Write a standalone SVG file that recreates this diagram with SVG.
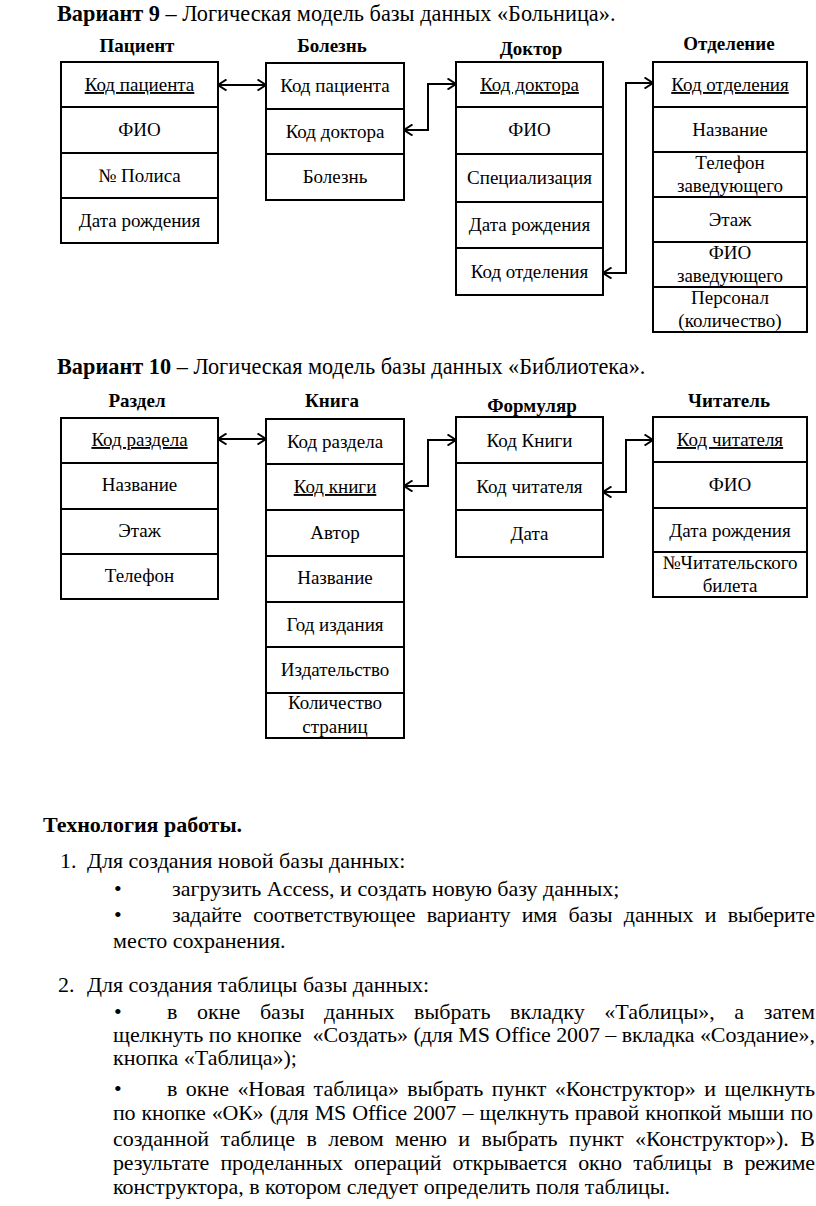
<svg xmlns="http://www.w3.org/2000/svg" width="816" height="1206" viewBox="0 0 816 1206" font-family="Liberation Serif, Times New Roman, serif">
<defs>
<marker id="arr" viewBox="0 0 10 12" refX="9.5" refY="6" markerWidth="10" markerHeight="12" markerUnits="userSpaceOnUse" orient="auto-start-reverse">
<path d="M1,0.5 L9.5,6 L1,11.5" fill="none" stroke="#000" stroke-width="2"/>
</marker>
<style>
text{font-family:"Liberation Serif","Times New Roman",serif;fill:#000}
.t{font-size:22.3px}
.h{font-size:19px;font-weight:bold;text-anchor:middle}
.c{font-size:19px;text-anchor:middle}
.u{text-decoration:underline}
.b{font-size:22px}
.box{fill:#fff;stroke:#000;stroke-width:2}
.sep{stroke:#000;stroke-width:2}
.con{fill:none;stroke:#000;stroke-width:2;marker-start:url(#arr);marker-end:url(#arr)}
</style>
</defs>
<rect width="816" height="1206" fill="#fff"/>

<text class="t" x="57" y="21"><tspan font-weight="bold">Вариант 9</tspan> – Логическая модель базы данных «Больница».</text>
<text class="t" x="57" y="374"><tspan font-weight="bold">Вариант 10</tspan> – Логическая модель базы данных «Библиотека».</text>

<g id="patient">
<text class="h" x="137" y="52">Пациент</text>
<rect class="box" x="61" y="62" width="157" height="181"/>
<path class="sep" d="M61,107H218M61,153H218M61,198H218"/>
<text class="c u" x="139.5" y="91">Код пациента</text>
<text class="c" x="139.5" y="136">ФИО</text>
<text class="c" x="139.5" y="182">№ Полиса</text>
<text class="c" x="139.5" y="227">Дата рождения</text>
</g>

<g id="disease">
<text class="h" x="332" y="52">Болезнь</text>
<rect class="box" x="266" y="63" width="138" height="137"/>
<path class="sep" d="M266,109H404M266,154H404"/>
<text class="c" x="335" y="92">Код пациента</text>
<text class="c" x="335" y="138">Код доктора</text>
<text class="c" x="335" y="183">Болезнь</text>
</g>

<g id="doctor">
<text class="h" x="531" y="55">Доктор</text>
<rect class="box" x="456" y="62" width="147" height="233"/>
<path class="sep" d="M456,107H603M456,154H603M456,202H603M456,248H603"/>
<text class="c u" x="529.5" y="91">Код доктора</text>
<text class="c" x="529.5" y="136">ФИО</text>
<text class="c" x="529.5" y="184">Специализация</text>
<text class="c" x="529.5" y="231">Дата рождения</text>
<text class="c" x="529.5" y="278">Код отделения</text>
</g>

<g id="department">
<text class="h" x="729" y="50">Отделение</text>
<rect class="box" x="653" y="62" width="154" height="270"/>
<path class="sep" d="M653,107H807M653,152H807M653,197H807M653,242H807M653,287H807"/>
<text class="c u" x="730" y="91">Код отделения</text>
<text class="c" x="730" y="136">Название</text>
<text class="c" x="730" y="169">Телефон</text>
<text class="c" x="730" y="192">заведующего</text>
<text class="c" x="730" y="226">Этаж</text>
<text class="c" x="730" y="259">ФИО</text>
<text class="c" x="730" y="282">заведующего</text>
<text class="c" x="730" y="304">Персонал</text>
<text class="c" x="730" y="327">(количество)</text>
</g>

<g id="section">
<text class="h" x="137" y="407">Раздел</text>
<rect class="box" x="61" y="418" width="157" height="181"/>
<path class="sep" d="M61,463H218M61,509H218M61,554H218"/>
<text class="c u" x="139.5" y="446">Код раздела</text>
<text class="c" x="139.5" y="491">Название</text>
<text class="c" x="139.5" y="537">Этаж</text>
<text class="c" x="139.5" y="582">Телефон</text>
</g>

<g id="book">
<text class="h" x="332" y="407">Книга</text>
<rect class="box" x="266" y="419" width="138" height="319"/>
<path class="sep" d="M266,464H404M266,510H404M266,556H404M266,602H404M266,647H404M266,693H404"/>
<text class="c" x="335" y="448">Код раздела</text>
<text class="c u" x="335" y="493">Код книги</text>
<text class="c" x="335" y="539">Автор</text>
<text class="c" x="335" y="584">Название</text>
<text class="c" x="335" y="631">Год издания</text>
<text class="c" x="335" y="676">Издательство</text>
<text class="c" x="335" y="709">Количество</text>
<text class="c" x="335" y="733">страниц</text>
</g>

<g id="form">
<text class="h" x="532" y="412">Формуляр</text>
<rect class="box" x="456" y="417" width="147" height="140"/>
<path class="sep" d="M456,463H603M456,510H603"/>
<text class="c" x="529.5" y="447">Код Книги</text>
<text class="c" x="529.5" y="493">Код читателя</text>
<text class="c" x="529.5" y="540">Дата</text>
</g>

<g id="reader">
<text class="h" x="729" y="407">Читатель</text>
<rect class="box" x="653" y="417" width="154" height="180"/>
<path class="sep" d="M653,462H807M653,508H807M653,552H807"/>
<text class="c u" x="730" y="446">Код читателя</text>
<text class="c" x="730" y="491">ФИО</text>
<text class="c" x="730" y="537">Дата рождения</text>
<text class="c" x="730" y="569">№Читательского</text>
<text class="c" x="730" y="592">билета</text>
</g>

<g id="connectors">
<path class="con" d="M218,85H266"/>
<path class="con" d="M404,130H428V84H456"/>
<path class="con" d="M603,273H626V83H653"/>
<path class="con" d="M218,439H266"/>
<path class="con" d="M404,486H428V440H456"/>
<path class="con" d="M603,492H626V440H653"/>
</g>

<g id="body">
<text class="b" x="43" y="832" font-weight="bold">Технология работы.</text>
<text class="b" x="60" y="868">1.</text>
<text class="b" x="87" y="868">Для создания новой базы данных:</text>
<text class="b" x="114" y="896">•</text>
<text class="b" x="172" y="896">загрузить Access, и создать новую базу данных;</text>
<text class="b" x="114" y="922">•</text>
<text class="b" x="172" y="922" word-spacing="6" textLength="643" lengthAdjust="spacing">задайте соответствующее варианту имя базы данных и выберите</text>
<text class="b" x="113" y="948">место сохранения.</text>

<text class="b" x="58" y="992">2.</text>
<text class="b" x="87" y="992">Для создания таблицы базы данных:</text>
<text class="b" x="114" y="1019">•</text>
<text class="b" x="167" y="1019" word-spacing="14" textLength="648" lengthAdjust="spacing">в окне базы данных выбрать вкладку «Таблицы», а затем</text>
<text class="b" x="113" y="1042" textLength="702" lengthAdjust="spacing">щелкнуть по кнопке&#160; «Создать» (для MS Office 2007 – вкладка «Создание»,</text>
<text class="b" x="113" y="1065">кнопка «Таблица»);</text>
<text class="b" x="114" y="1096">•</text>
<text class="b" x="167" y="1096" word-spacing="3" textLength="648" lengthAdjust="spacing">в окне «Новая таблица» выбрать пункт «Конструктор» и щелкнуть</text>
<text class="b" x="113" y="1120" word-spacing="1" textLength="700" lengthAdjust="spacing">по кнопке «ОК» (для MS Office 2007 – щелкнуть правой кнопкой мыши по</text>
<text class="b" x="113" y="1146" word-spacing="6" textLength="702" lengthAdjust="spacing">созданной таблице в левом меню и выбрать пункт «Конструктор»). В</text>
<text class="b" x="113" y="1170" word-spacing="6" textLength="702" lengthAdjust="spacing">результате проделанных операций открывается окно таблицы в режиме</text>
<text class="b" x="113" y="1194">конструктора, в котором следует определить поля таблицы.</text>
</g>
</svg>
